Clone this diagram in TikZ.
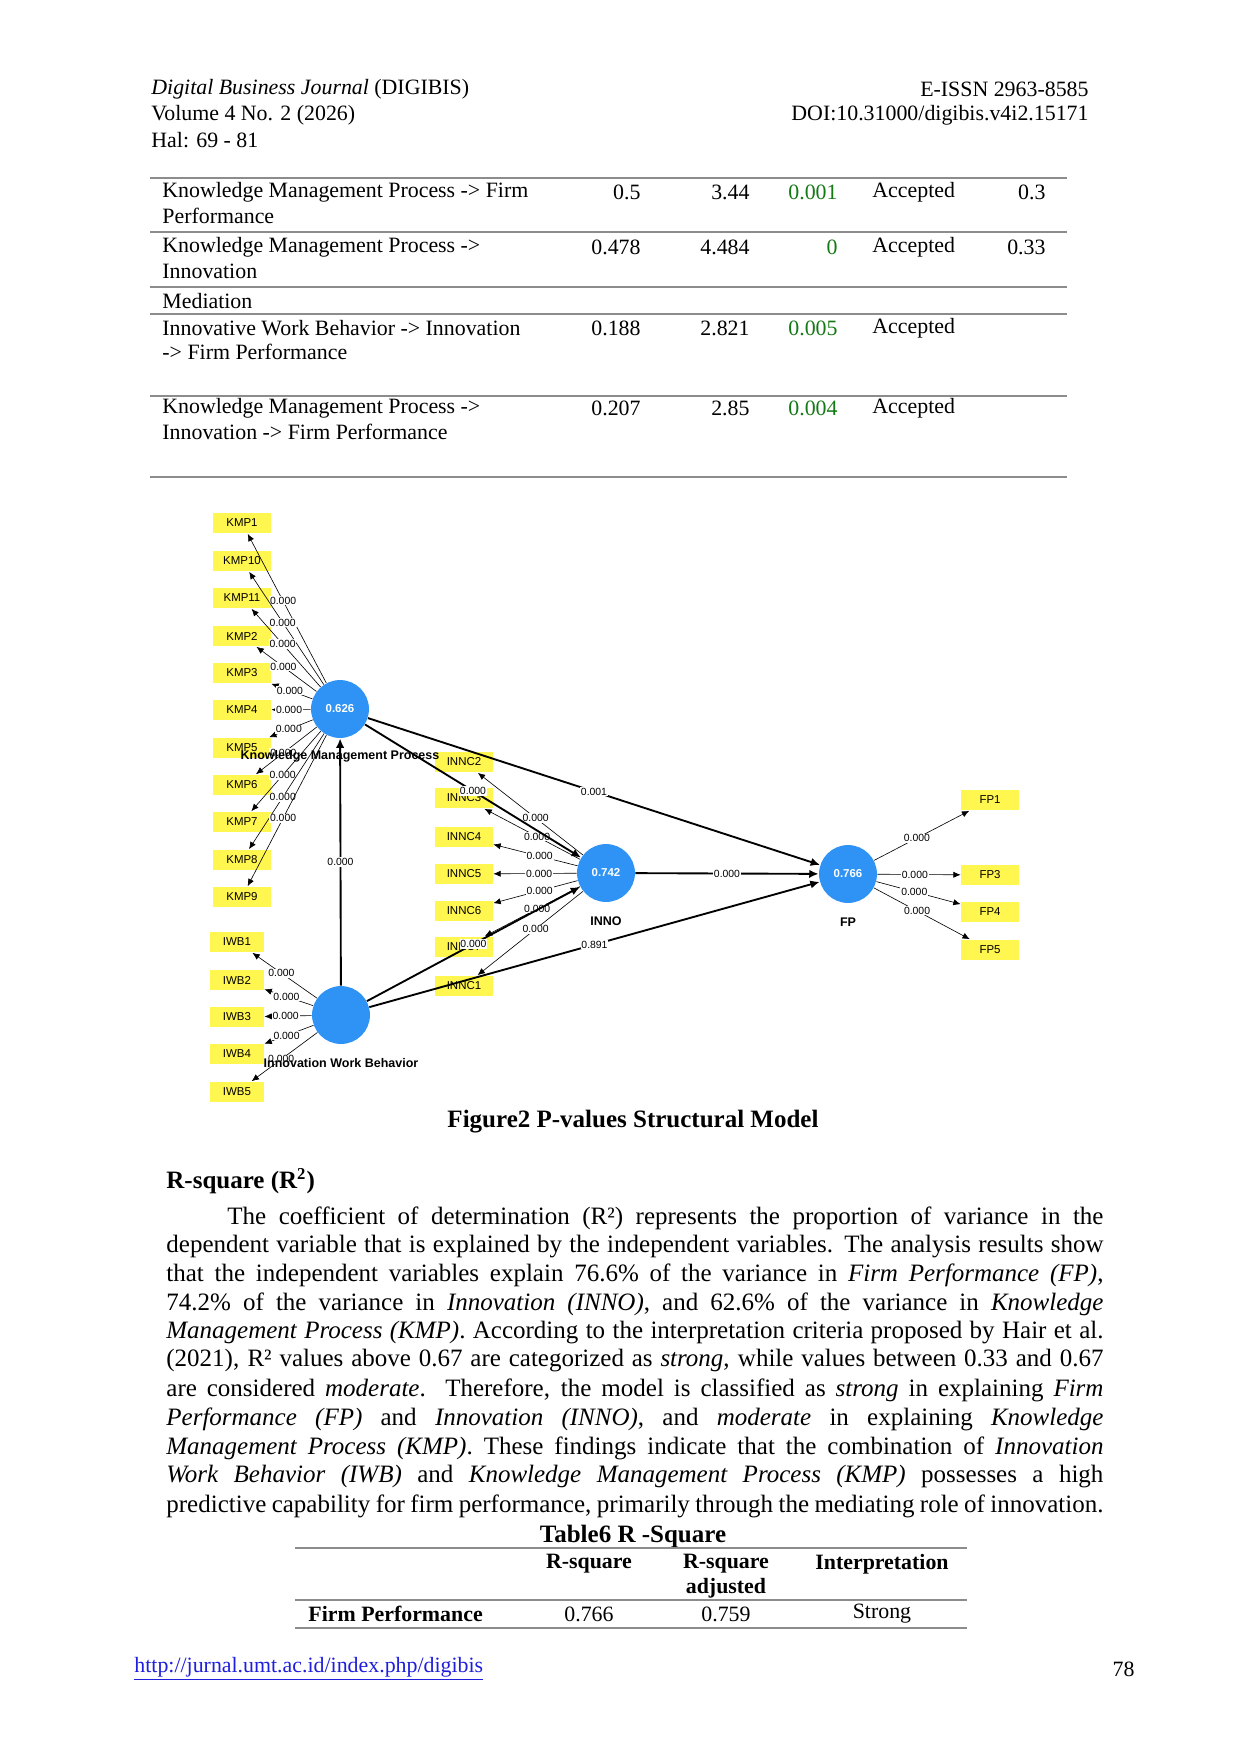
\documentclass[tikz,border=0pt]{standalone}
\usepackage{fontspec}
\setmainfont{Liberation Serif}
\newfontfamily\plsfont{Liberation Sans}
\usetikzlibrary{arrows.meta}
\definecolor{indyellow}{RGB}{255,246,80}
\definecolor{lvblue}{RGB}{46,147,245}
\definecolor{pgreen}{RGB}{20,120,20}
\definecolor{urlblue}{RGB}{30,30,220}
\tikzset{
  ind/.style={fill=indyellow, minimum width=27.8pt, minimum height=10pt, inner sep=0pt, font=\plsfont\fontsize{5.5}{6}\selectfont},
  lv/.style={circle, fill=lvblue, minimum size=27.8pt, inner sep=0pt, text=white, font=\plsfont\bfseries\fontsize{5.5}{6}\selectfont},
  lvname/.style={font=\plsfont\bfseries\fontsize{6}{7}\selectfont, inner sep=0pt},
  pv/.style={fill=white, inner sep=0.4pt, font=\plsfont\fontsize{5}{6}\selectfont},
  load/.style={-{Latex[length=3.5pt,width=3pt]}, line width=0.3pt},
  struct/.style={-{Latex[length=4.5pt,width=4pt]}, line width=0.9pt},
  txt/.style={inner sep=0pt, font=\fontsize{12}{14}\selectfont},
  tab/.style={inner sep=0pt, font=\fontsize{10.5}{12}\selectfont},
  rule/.style={line width=0.8pt, black!45}
}
\newcommand{\jline}[2]{\makebox[#1][s]{#2}}
\begin{document}
\begin{tikzpicture}[x=0.48pt, y=-0.48pt]
\useasboundingbox (0,0) rectangle (1242,1755);

% header
\node[tab, anchor=west] at (151,89) {\textit{Digital Business Journal} (DIGIBIS)};
\node[tab, anchor=west] at (151,115) {Volume 4 No. 2 (2026)};
\node[tab, anchor=west] at (151,140) {Hal: 69 - 81};
\node[tab, anchor=east] at (1089,89) {E-ISSN 2963-8585};
\node[tab, anchor=east] at (1089,115) {DOI:10.31000/digibis.v4i2.15171};

% table 5 (continued)
\foreach \y in {178,232,287,314,396,477} \draw[rule] (150,\y) -- (1067,\y);
\node[tab, anchor=west] at (162,192) {Knowledge Management Process -> Firm};
\node[tab, anchor=west] at (162,216) {Performance};
\node[tab, anchor=east] at (641,192) {0.5};
\node[tab, anchor=east] at (750,192) {3.44};
\node[tab, anchor=east, text=pgreen] at (838,192) {0.001};
\node[tab, anchor=west] at (872,192) {Accepted};
\node[tab, anchor=east] at (1046,192) {0.3};
\node[tab, anchor=west] at (162,247) {Knowledge Management Process ->};
\node[tab, anchor=west] at (162,271) {Innovation};
\node[tab, anchor=east] at (641,247) {0.478};
\node[tab, anchor=east] at (750,247) {4.484};
\node[tab, anchor=east, text=pgreen] at (838,247) {0};
\node[tab, anchor=west] at (872,247) {Accepted};
\node[tab, anchor=east] at (1046,247) {0.33};
\node[tab, anchor=west] at (162,301) {Mediation};
\node[tab, anchor=west] at (162,328) {Innovative Work Behavior -> Innovation};
\node[tab, anchor=west] at (162,352) {-> Firm Performance};
\node[tab, anchor=east] at (641,328) {0.188};
\node[tab, anchor=east] at (750,328) {2.821};
\node[tab, anchor=east, text=pgreen] at (838,328) {0.005};
\node[tab, anchor=west] at (872,328) {Accepted};
\node[tab, anchor=west] at (162,408) {Knowledge Management Process ->};
\node[tab, anchor=west] at (162,432) {Innovation -> Firm Performance};
\node[tab, anchor=east] at (641,408) {0.207};
\node[tab, anchor=east] at (750,408) {2.85};
\node[tab, anchor=east, text=pgreen] at (838,408) {0.004};
\node[tab, anchor=west] at (872,408) {Accepted};

% structural model
\foreach \n/\y in {1/523,10/561,11/598,2/636,3/673,4/710,5/748,6/785,7/822,8/860,9/897}
  \node[ind] (kmp\n) at (242,\y) {KMP\n};
\foreach \n/\y in {1/942,2/980,3/1017,4/1054,5/1092}
  \node[ind, minimum width=26pt] (iwb\n) at (237,\y) {IWB\n};
\foreach \n/\y in {2/762,3/798,4/837,5/874,6/911,7/947,1/986}
  \node[ind] (innc\n) at (464,\y) {INNC\n};
\foreach \n/\y in {1/800,3/875,4/912,5/950}
  \node[ind] (fp\n) at (990,\y) {FP\n};

\node[lv] (kmp) at (340,709) {0.626};
\node[lv] (inno) at (606,873) {0.742};
\node[lv] (fp) at (848,874) {0.766};
\node[lv] (iwb) at (341,1015) {};

\foreach \n in {1,10,11,2,3,4,5,6,7,8,9}
  \draw[load] (kmp) -- node[pv, pos=0.55] {0.000} (kmp\n);
\foreach \n in {1,2,3,4,5}
  \draw[load] (iwb) -- node[pv, pos=0.55] {0.000} (iwb\n);
\foreach \n in {2,3,4,5,6,7,1}
  \draw[load] (inno) -- node[pv, pos=0.45] {0.000} (innc\n);
\foreach \n in {1,3,4,5}
  \draw[load] (fp) -- node[pv, pos=0.45] {0.000} (fp\n);

\draw[struct] (iwb) -- node[pv] {0.000} (kmp);
\draw[struct] (kmp) -- node[pv] {0.000} (inno);
\draw[struct] (kmp) -- node[pv] {0.001} (fp);
\draw[struct] (iwb) -- node[pv] {0.000} (inno);
\draw[struct] (iwb) -- node[pv] {0.891} (fp);
\draw[struct] (inno) -- node[pv] {0.000} (fp);

\node[lvname] at (340,756) {Knowledge Management Process};
\node[lvname] at (341,1063) {Innovation Work Behavior};
\node[lvname] at (606,921) {INNO};
\node[lvname] at (848,922) {FP};

\node[inner sep=0pt, font=\bfseries\fontsize{12}{14}\selectfont] at (633,1122) {Figure2 P-values Structural Model};

% R-square section
\node[txt, anchor=west, font=\bfseries\fontsize{12}{14}\selectfont] at (166,1181) {R-square (R\textsuperscript{2})};
\node[txt, anchor=west] at (227,1218) {\jline{420.5pt}{The coefficient of determination (R²) represents the proportion of variance in the}};
\node[txt, anchor=west] at (166,1247) {\jline{449.8pt}{dependent variable that is explained by the independent variables. The analysis results show}};
\node[txt, anchor=west] at (166,1275) {\jline{449.8pt}{that the independent variables explain 76.6\% of the variance in \textit{Firm Performance (FP)},}};
\node[txt, anchor=west] at (166,1304) {\jline{449.8pt}{74.2\% of the variance in \textit{Innovation (INNO)}, and 62.6\% of the variance in \textit{Knowledge}}};
\node[txt, anchor=west] at (166,1333) {\jline{449.8pt}{\textit{Management Process (KMP)}. According to the interpretation criteria proposed by Hair et al.}};
\node[txt, anchor=west] at (166,1361) {\jline{449.8pt}{(2021), R² values above 0.67 are categorized as \textit{strong}, while values between 0.33 and 0.67}};
\node[txt, anchor=west] at (166,1390) {\jline{449.8pt}{are considered \textit{moderate}. Therefore, the model is classified as \textit{strong} in explaining \textit{Firm}}};
\node[txt, anchor=west] at (166,1419) {\jline{449.8pt}{\textit{Performance (FP)} and \textit{Innovation (INNO)}, and \textit{moderate} in explaining \textit{Knowledge}}};
\node[txt, anchor=west] at (166,1448) {\jline{449.8pt}{\textit{Management Process (KMP)}. These findings indicate that the combination of \textit{Innovation}}};
\node[txt, anchor=west] at (166,1477) {\jline{449.8pt}{\textit{Work Behavior (IWB)} and \textit{Knowledge Management Process (KMP)} possesses a high}};
\node[txt, anchor=west] at (166,1506) {\jline{449.8pt}{predictive capability for firm performance, primarily through the mediating role of innovation.}};

% table 6
\node[txt, font=\bfseries\fontsize{12}{14}\selectfont] at (633,1536) {Table6 R -Square};
\foreach \y in {1548,1600,1628} \draw[rule] (295,\y) -- (967,\y);
\node[tab, font=\bfseries\fontsize{10.5}{12}\selectfont] at (589,1564) {R-square};
\node[tab, font=\bfseries\fontsize{10.5}{12}\selectfont] at (726,1564) {R-square};
\node[tab, font=\bfseries\fontsize{10.5}{12}\selectfont] at (726,1588) {adjusted};
\node[tab, font=\bfseries\fontsize{10.5}{12}\selectfont] at (882,1564) {Interpretation};
\node[tab, anchor=west, font=\bfseries\fontsize{10.5}{12}\selectfont] at (308,1614) {Firm Performance};
\node[tab] at (589,1614) {0.766};
\node[tab] at (726,1614) {0.759};
\node[tab] at (882,1614) {Strong};

% footer
\node[tab, anchor=west, text=urlblue] at (134,1669) {\underline{http://jurnal.umt.ac.id/index.php/digibis}};
\node[tab, anchor=east] at (1135,1669) {78};
\end{tikzpicture}
\end{document}
